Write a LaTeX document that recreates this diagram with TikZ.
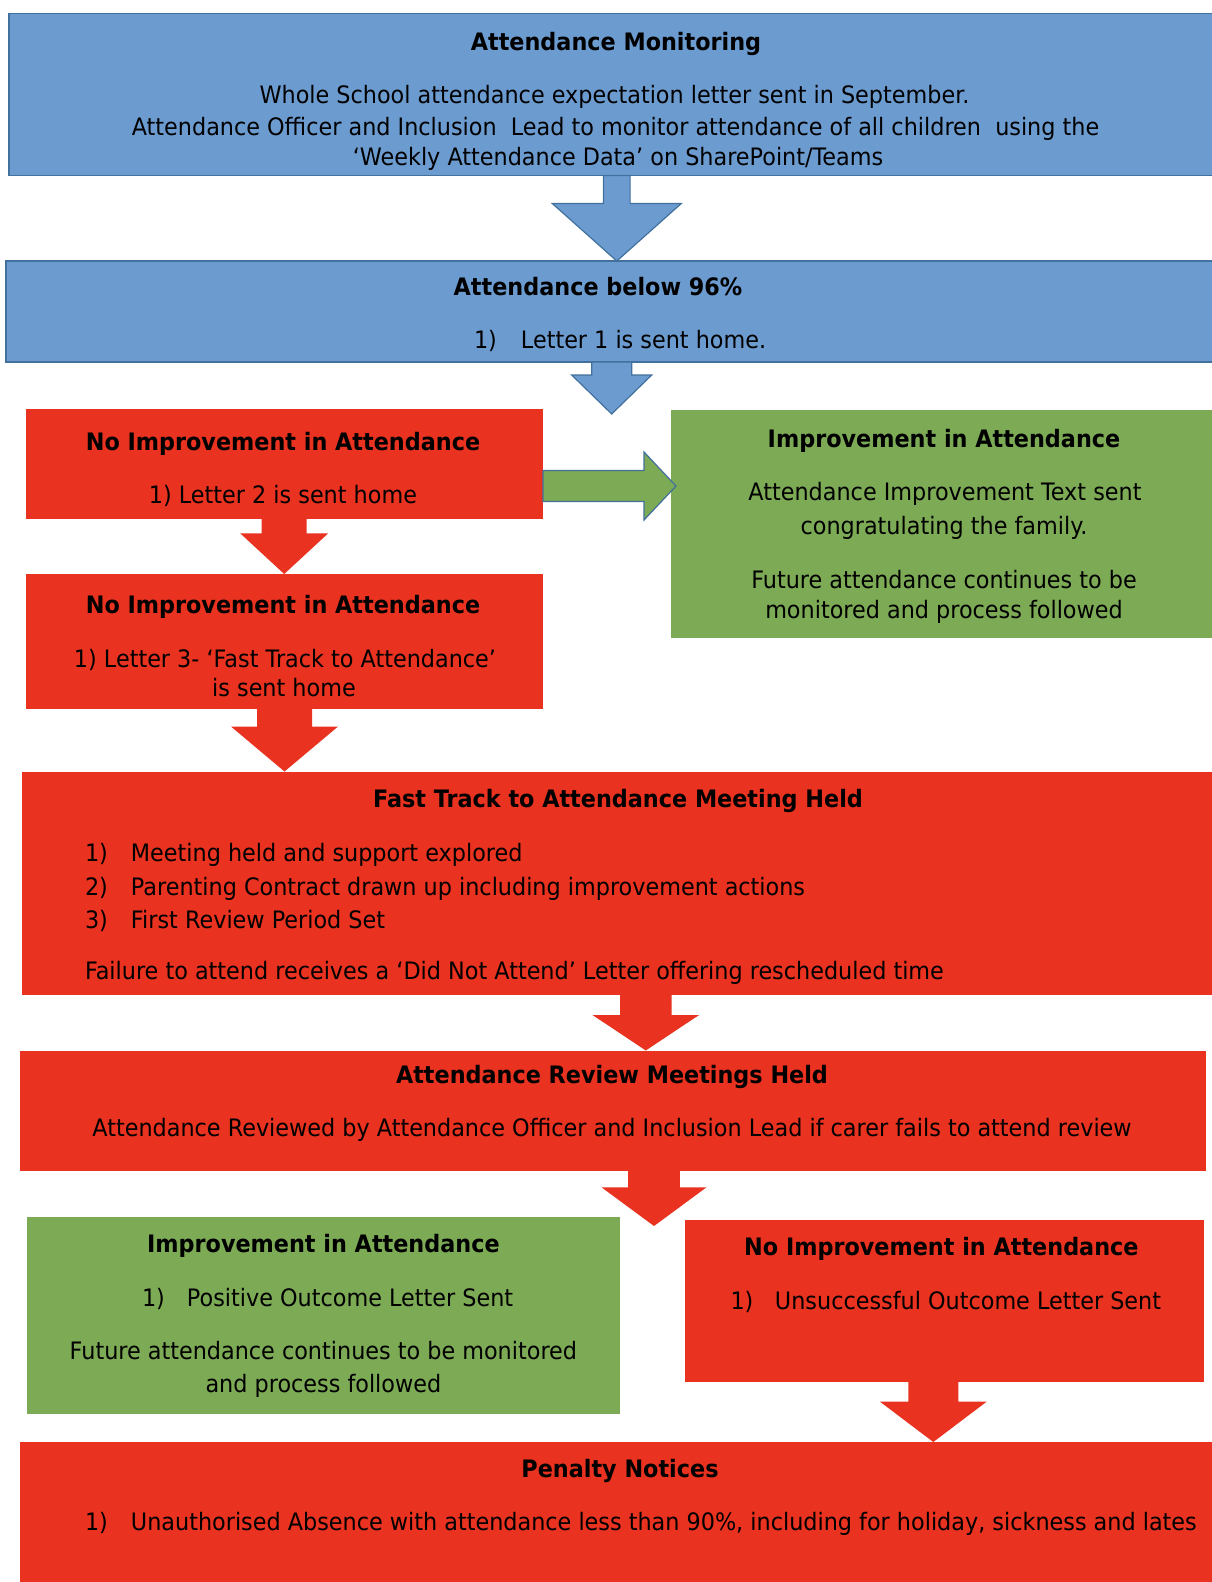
\documentclass[tikz,border=0pt]{standalone}
\usepackage{fontspec}
\setmainfont{DejaVu Sans}[FakeStretch=0.93]
\usetikzlibrary{calc}
\definecolor{boxblue}{HTML}{6C9BD0}
\definecolor{edgeblue}{HTML}{41719C}
\definecolor{boxred}{HTML}{E9321F}
\definecolor{boxgreen}{HTML}{7CAA55}
\tikzset{
  box/.style={rectangle, inner sep=0pt, outer sep=0pt, anchor=north west},
  bluebox/.style={box, fill=boxblue, draw=edgeblue, line width=1.5pt},
  redbox/.style={box, fill=boxred},
  greenbox/.style={box, fill=boxgreen},
  txt/.style={inner sep=0pt, outer sep=0pt, anchor=base, text=black, font=\fontsize{24}{30}\selectfont},
  ttl/.style={txt, font=\fontsize{24}{30}\selectfont\bfseries},
  txtl/.style={txt, anchor=base west},
  bluearrow/.style={fill=boxblue, draw=edgeblue, line width=1.2pt},
  redarrow/.style={fill=boxred},
  greenarrow/.style={fill=boxgreen, draw=edgeblue, line width=1.2pt},
}
% vertical block arrow: style, from, to, centre x, shaft half width, head half width, head length
\newcommand\vblock[7]{%
  \path[#1] let \p1=(#2), \p2=(#3) in
    (#4pt-#5pt,\y1) -- (#4pt-#5pt,\y2+#7pt) -- (#4pt-#6pt,\y2+#7pt) -- (#4pt,\y2)
    -- (#4pt+#6pt,\y2+#7pt) -- (#4pt+#5pt,\y2+#7pt) -- (#4pt+#5pt,\y1) -- cycle;}
% horizontal block arrow: style, from, to, centre y, shaft half width, head half width, head length
\newcommand\hblock[7]{%
  \path[#1] let \p1=(#2), \p2=(#3) in
    (\x1,-#4pt+#5pt) -- (\x2-#7pt,-#4pt+#5pt) -- (\x2-#7pt,-#4pt+#6pt) -- (\x2,-#4pt)
    -- (\x2-#7pt,-#4pt-#6pt) -- (\x2-#7pt,-#4pt-#5pt) -- (\x1,-#4pt-#5pt) -- cycle;}
\begin{document}
\begin{tikzpicture}[x=1pt,y=-1pt]
\useasboundingbox (0,0) rectangle (1212,1582);
\fill[white] (0,0) rectangle (1212,1582);
\clip (0,0) rectangle (1212,1582);

% boxes
\node[bluebox, minimum width=1213pt, minimum height=162pt] (mon) at (9,13.5) {};
\node[bluebox, minimum width=1216pt, minimum height=101pt] (b96) at (6,261) {};
\node[redbox, minimum width=517.5pt, minimum height=109.5pt] (nA) at (25.5,409) {};
\node[greenbox, minimum width=551pt, minimum height=228pt] (imp1) at (671,410) {};
\node[redbox, minimum width=517.5pt, minimum height=134.5pt] (nB) at (25.5,574) {};
\node[redbox, minimum width=1200.5pt, minimum height=223.5pt] (ft) at (21.5,771.5) {};
\node[redbox, minimum width=1186pt, minimum height=120pt] (rev) at (19.5,1050.5) {};
\node[greenbox, minimum width=593pt, minimum height=197.5pt] (imp2) at (27,1216.5) {};
\node[redbox, minimum width=519pt, minimum height=162pt] (nF) at (685,1219.5) {};
\node[redbox, minimum width=1202.5pt, minimum height=148pt] (pen) at (19.5,1442) {};

% free arrow ends
\coordinate (t2) at (611.7,414);
\coordinate (t6) at (654,1226);
\coordinate (gtip) at (676,486);

% block arrows
\vblock{bluearrow}{mon.south}{b96.north}{616.8}{13.3}{64.5}{57.5}
\vblock{bluearrow}{b96.south}{t2}{611.7}{20}{40}{39}
\hblock{greenarrow}{nA.east}{gtip}{486}{15.5}{34}{32}
\vblock{redarrow}{nA.south}{nB.north}{284.2}{22.5}{44}{40.7}
\vblock{redarrow}{nB.south}{ft.north}{284.5}{27.5}{53.3}{44.8}
\vblock{redarrow}{ft.south}{rev.north}{645.8}{25.8}{53.3}{35.5}
\vblock{redarrow}{rev.south}{t6}{654}{25.8}{52.5}{38.7}
\vblock{redarrow}{nF.south}{pen.north}{933.3}{25}{53.3}{40.3}

% texts
\node[ttl] (monT) at (616,50) {Attendance Monitoring};
\node[txt] (monL1) at (614.5,103.5) {Whole School attendance expectation letter sent in September.};
\node[txt] (monL2) at (615.5,135) {Attendance Officer and Inclusion\ \ Lead to monitor attendance of all children\ \ using the};
\node[txt] (monL3) at (618,165) {‘Weekly Attendance Data’ on SharePoint/Teams};

\node[ttl] (b96T) at (598,295) {Attendance below 96\%};
\node[txtl] (b96L) at (474,348.5) {\makebox[47pt][l]{1)}Letter 1 is sent home.};

\node[ttl] (nAT) at (283,450) {No Improvement in Attendance};
\node[txt] (nAL) at (283,503.5) {1) Letter 2 is sent home};

\node[ttl] (imp1T) at (944,447.5) {Improvement in Attendance};
\node[txt] (imp1L1) at (945,500.5) {Attendance Improvement Text sent};
\node[txt] (imp1L2) at (944,534.5) {congratulating the family.};
\node[txt] (imp1L3) at (944,588.5) {Future attendance continues to be};
\node[txt] (imp1L4) at (944,618.5) {monitored and process followed};

\node[ttl] (nBT) at (283,613.5) {No Improvement in Attendance};
\node[txt] (nBL1) at (285,667.5) {1) Letter 3- ‘Fast Track to Attendance’};
\node[txt] (nBL2) at (284,696.5) {is sent home};

\node[ttl] (ftT) at (618,807.5) {Fast Track to Attendance Meeting Held};
\node[txtl] (ftL1) at (85,861.5) {\makebox[46pt][l]{1)}Meeting held and support explored};
\node[txtl] (ftL2) at (85,895) {\makebox[46pt][l]{2)}Parenting Contract drawn up including improvement actions};
\node[txtl] (ftL3) at (85,928.5) {\makebox[46pt][l]{3)}First Review Period Set};
\node[txtl] (ftL4) at (85,979.5) {Failure to attend receives a ‘Did Not Attend’ Letter offering rescheduled time};

\node[ttl] (revT) at (612,1083.5) {Attendance Review Meetings Held};
\node[txt] (revL) at (612,1136.5) {Attendance Reviewed by Attendance Officer and Inclusion Lead if carer fails to attend review};

\node[ttl] (imp2T) at (323.4,1252.5) {Improvement in Attendance};
\node[txtl] (imp2L1) at (142,1306.5) {\makebox[45pt][l]{1)}Positive Outcome Letter Sent};
\node[txt] (imp2L2) at (323.4,1359.5) {Future attendance continues to be monitored};
\node[txt] (imp2L3) at (323.4,1392.5) {and process followed};

\node[ttl] (nFT) at (941.4,1255.5) {No Improvement in Attendance};
\node[txtl] (nFL) at (730.5,1309.5) {\makebox[44.5pt][l]{1)}Unsuccessful Outcome Letter Sent};

\node[ttl] (penT) at (620,1477.5) {Penalty Notices};
\node[txtl] (penL) at (85,1530.5) {\makebox[46pt][l]{1)}Unauthorised Absence with attendance less than 90\%, including for holiday, sickness and lates};
\end{tikzpicture}
\end{document}
